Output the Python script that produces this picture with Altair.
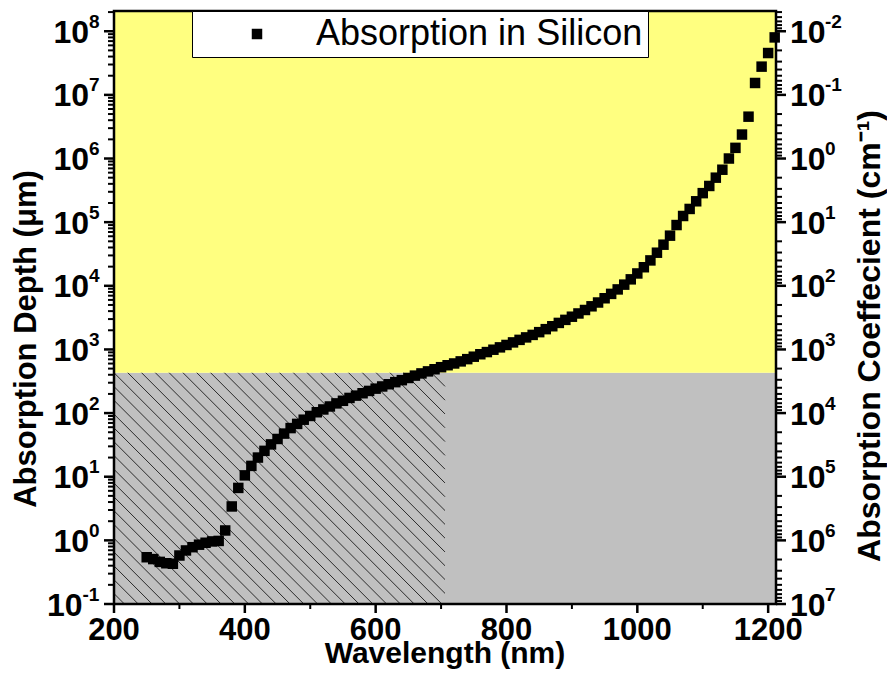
import math
import altair as alt
import pandas as pd

# ---------------- data ----------------
wavelength_nm = [250, 260, 270, 280, 290, 300, 310, 320, 330, 340, 350, 360,
                 370, 380, 390, 400, 410, 420, 430, 440, 450, 460, 470, 480, 490,
                 500, 510, 520, 530, 540, 550, 560, 570, 580, 590, 600,
                 610, 620, 630, 640, 650, 660, 670, 680, 690, 700,
                 710, 720, 730, 740, 750, 760, 770, 780, 790, 800,
                 810, 820, 830, 840, 850, 860, 870, 880, 890, 900,
                 910, 920, 930, 940, 950, 960, 970, 980, 990, 1000,
                 1010, 1020, 1030, 1040, 1050, 1060, 1070, 1080, 1090, 1100,
                 1110, 1120, 1130, 1140, 1150, 1160, 1170, 1180, 1190, 1200, 1210]
absorption_depth = [0.543, 0.508, 0.459, 0.437, 0.429, 0.578, 0.694, 0.781, 0.855, 0.917, 0.962, 0.980,
                    1.43, 3.41, 6.67, 10.5, 14.8, 20.0, 25.5, 32.2, 39.2, 47.6, 58.1, 67.6, 78.7,
                    90.1, 103, 114, 127, 142, 156, 173, 188, 205, 223, 242,
                    262, 284, 306, 329, 356, 388, 420, 452, 488, 526,
                    565, 602, 649, 704, 769, 840, 909, 990, 1078, 1176,
                    1290, 1414, 1546, 1692, 1869, 2083, 2315, 2611, 2915, 3268,
                    3676, 4167, 4762, 5464, 6369, 7463, 8772, 10430, 12630, 15630,
                    19570, 25060, 33110, 44250, 61350, 90090, 125000, 161300, 212800, 285700,
                    370400, 500000, 666700, 1000000, 1471000, 2381000, 4545000,
                    15380000, 27780000, 45450000, 80000000]
series_name = "Absorption in Silicon"

x_major_values = [200, 400, 600, 800, 1000, 1200]
x_major_labels = ["200", "400", "600", "800", "1000", "1200"]
x_minor_values = [300, 500, 700, 900, 1100]

left_major_values = [0.1, 1, 10, 100, 1e3, 1e4, 1e5, 1e6, 1e7, 1e8]
left_exponents = ["-1", "0", "1", "2", "3", "4", "5", "6", "7", "8"]
right_major_values = [1e-2, 1e-1, 1, 10, 100, 1e3, 1e4, 1e5, 1e6, 1e7]
right_exponents = ["-2", "-1", "0", "1", "2", "3", "4", "5", "6", "7"]

x_title = "Wavelength (nm)"
left_title = "Absorption Depth (\u03bcm)"
right_title = "Absorption Coeffecient (cm\u207b\u00b9)"

# shaded regions
gray_top = 430          # boundary between grey and yellow (left-axis units)
hatch_right = 706       # right edge of hatched region (nm)

# ---------------- scales / layout ----------------
W, H = 662, 593
X_DOMAIN = [200, 1212]
LEFT_DOMAIN = [0.1, 10 ** 8.318]
RIGHT_DOMAIN = [1e6 / LEFT_DOMAIN[1], 1e7]
FONT = "Liberation Sans, Arial, sans-serif"

xsc = alt.Scale(domain=X_DOMAIN, nice=False, zero=False)
ylsc = alt.Scale(type="log", domain=LEFT_DOMAIN, nice=False)
yrsc = alt.Scale(type="log", domain=RIGHT_DOMAIN, nice=False, reverse=True)


def X(f):
    return alt.X(f, type="quantitative", scale=xsc, axis=None)


def YL(f):
    return alt.Y(f, type="quantitative", scale=ylsc, axis=None)


def YR(f):
    return alt.Y(f, type="quantitative", scale=yrsc, axis=None)


left_minor = [k * 10 ** n for n in range(-1, 9) for k in range(2, 10)
              if k * 10 ** n <= LEFT_DOMAIN[1]]
right_minor = [k * 10.0 ** n for n in range(-3, 7) for k in range(2, 10)
               if RIGHT_DOMAIN[0] <= k * 10.0 ** n <= RIGHT_DOMAIN[1]]

# hatch segments (45 degree lines in screen space), computed in data coords
px_nm = W / (X_DOMAIN[1] - X_DOMAIN[0])
px_dec = H / (math.log10(LEFT_DOMAIN[1]) - math.log10(LEFT_DOMAIN[0]))
log_top = math.log10(gray_top)
log_bot = math.log10(LEFT_DOMAIN[0])
Bw = (hatch_right - X_DOMAIN[0]) * px_nm
Bh = (log_top - log_bot) * px_dec
step = 13.8
rows = []
k = -int(math.ceil(Bh / step))
while k * step < Bw:
    c = k * step
    u0, v0 = (c, 0.0) if c >= 0 else (0.0, -c)
    u1, v1 = (c + Bh, Bh) if c + Bh <= Bw else (Bw, Bw - c)
    if u1 > u0 + 0.5:
        rows.append({"x": X_DOMAIN[0] + u0 / px_nm, "x2": X_DOMAIN[0] + u1 / px_nm,
                     "y": 10 ** (log_top - v0 / px_dec), "y2": 10 ** (log_top - v1 / px_dec)})
    k += 1
hatch_df = pd.DataFrame(rows)

# ---------------- layers ----------------
bg_df = pd.DataFrame([
    {"x": X_DOMAIN[0], "x2": X_DOMAIN[1], "y": LEFT_DOMAIN[0], "y2": gray_top, "c": "#C0C0C0"},
    {"x": X_DOMAIN[0], "x2": X_DOMAIN[1], "y": gray_top, "y2": LEFT_DOMAIN[1], "c": "#FFFF80"},
])
bg = alt.Chart(bg_df).mark_rect().encode(
    x=X("x"), x2="x2", y=YL("y"), y2="y2",
    color=alt.Color("c:N", scale=None))

hatch = alt.Chart(hatch_df).mark_rule(color="#1a1a1a", strokeWidth=0.9).encode(
    x=X("x"), x2="x2", y=YL("y"), y2="y2")

frame_df = pd.DataFrame([{"x": X_DOMAIN[0], "x2": X_DOMAIN[1],
                          "y": LEFT_DOMAIN[0], "y2": LEFT_DOMAIN[1]}])
frame = alt.Chart(frame_df).mark_rect(filled=False, stroke="black", strokeWidth=2.5).encode(
    x=X("x"), x2="x2", y=YL("y"), y2="y2")

pts_df = pd.DataFrame({"x": wavelength_nm, "y": absorption_depth, "s": series_name})
points = alt.Chart(pts_df).mark_square(size=110, opacity=1).encode(
    x=X("x"), y=YL("y"),
    color=alt.Color("s:N", scale=alt.Scale(domain=[series_name], range=["#000000"]),
                    legend=alt.Legend(title=None, orient="none", legendX=78, legendY=0,
                                      fillColor="white", strokeColor="black", padding=5,
                                      symbolType="square", symbolSize=110, symbolStrokeWidth=0,
                                      symbolOffset=42, labelOffset=41, labelFont=FONT,
                                      labelFontSize=36, labelColor="black", labelLimit=600)))

lmaj_df = pd.DataFrame({"v": left_major_values, "e": left_exponents})
lmin_df = pd.DataFrame({"v": left_minor})
lmaj_ticks = alt.Chart(lmaj_df).mark_rule(color="black", strokeWidth=2.5).encode(
    y=YL("v"), x=alt.value(-10), x2=alt.value(0))
lmin_ticks = alt.Chart(lmin_df).mark_rule(color="black", strokeWidth=2).encode(
    y=YL("v"), x=alt.value(-6), x2=alt.value(0))

lab = dict(font=FONT, fontWeight="bold", color="black")
l10_a = alt.Chart(lmaj_df).transform_filter("datum.v >= 1").mark_text(
    text="10", align="right", baseline="alphabetic", dy=11.5, fontSize=32, **lab).encode(
    y=YL("v"), x=alt.value(-25))
lexp_a = alt.Chart(lmaj_df).transform_filter("datum.v >= 1").mark_text(
    align="left", baseline="alphabetic", dy=-3.5, fontSize=19, **lab).encode(
    y=YL("v"), x=alt.value(-25), text="e:N")
l10_b = alt.Chart(lmaj_df).transform_filter("datum.v < 1").mark_text(
    text="10", align="right", baseline="alphabetic", dy=11.5, fontSize=32, **lab).encode(
    y=YL("v"), x=alt.value(-31.5))
lexp_b = alt.Chart(lmaj_df).transform_filter("datum.v < 1").mark_text(
    align="left", baseline="alphabetic", dy=-3.5, fontSize=19, **lab).encode(
    y=YL("v"), x=alt.value(-31.5), text="e:N")

xmaj_df = pd.DataFrame({"x": x_major_values, "t": x_major_labels})
xmin_df = pd.DataFrame({"x": x_minor_values})
xmaj_ticks = alt.Chart(xmaj_df).mark_rule(color="black", strokeWidth=2.5).encode(
    x=X("x"), y=alt.value(H), y2=alt.value(H + 9))
xmin_ticks = alt.Chart(xmin_df).mark_rule(color="black", strokeWidth=2).encode(
    x=X("x"), y=alt.value(H), y2=alt.value(H + 5))
xlabels = alt.Chart(xmaj_df).mark_text(
    align="center", baseline="alphabetic", fontSize=31, **lab).encode(
    x=X("x"), y=alt.value(H + 36), text="t:N")

xt = alt.Chart(pd.DataFrame({"t": [x_title]})).mark_text(
    align="center", baseline="alphabetic", fontSize=30, **lab).encode(
    x=alt.value(331), y=alt.value(H + 59), text="t:N")
lt = alt.Chart(pd.DataFrame({"t": [left_title]})).mark_text(
    align="center", baseline="alphabetic", angle=270, fontSize=31, **lab).encode(
    x=alt.value(-78), y=alt.value(328), text="t:N")
rt = alt.Chart(pd.DataFrame({"t": [right_title]})).mark_text(
    align="center", baseline="alphabetic", angle=270, fontSize=32, **lab).encode(
    x=alt.value(W + 104), y=alt.value(325), text="t:N")

rmaj_df = pd.DataFrame({"v": right_major_values, "e": right_exponents})
rmin_df = pd.DataFrame({"v": right_minor})
rmaj_ticks = alt.Chart(rmaj_df).mark_rule(color="black", strokeWidth=2.5).encode(
    y=YR("v"), x=alt.value(W), x2=alt.value(W + 10))
rmin_ticks = alt.Chart(rmin_df).mark_rule(color="black", strokeWidth=2).encode(
    y=YR("v"), x=alt.value(W), x2=alt.value(W + 6))
r10 = alt.Chart(rmaj_df).mark_text(
    text="10", align="left", baseline="alphabetic", dy=11.5, fontSize=32, **lab).encode(
    y=YR("v"), x=alt.value(W + 14))
rexp = alt.Chart(rmaj_df).mark_text(
    align="left", baseline="alphabetic", dy=-3.5, fontSize=19, **lab).encode(
    y=YR("v"), x=alt.value(W + 49), text="e:N")

left_group = alt.layer(bg, hatch, frame, points, lmaj_ticks, lmin_ticks,
                       l10_a, lexp_a, l10_b, lexp_b,
                       xmaj_ticks, xmin_ticks, xlabels, xt, lt, rt)
right_group = alt.layer(rmaj_ticks, rmin_ticks, r10, rexp)

chart = alt.layer(left_group, right_group).resolve_scale(y="independent").properties(
    width=W, height=H,
    autosize=alt.AutoSizeParams(type="none"),
    padding={"left": 106, "top": 3, "right": 111, "bottom": 65},
    background="white",
).configure_view(strokeWidth=0)

chart.save("out.html", embed_options={"renderer": "svg", "actions": False})
